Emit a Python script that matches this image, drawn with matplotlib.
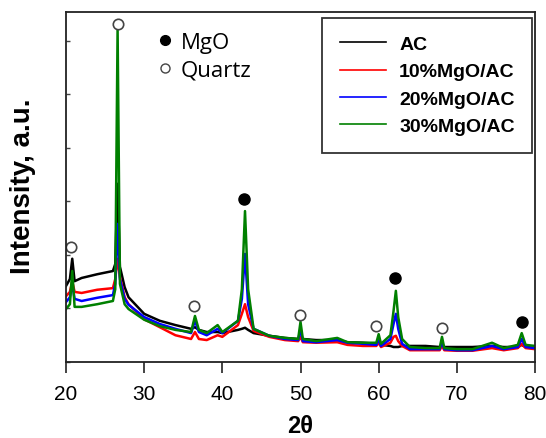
import matplotlib
matplotlib.use("Agg")
import matplotlib.pyplot as plt
from matplotlib.lines import Line2D

plt.rcParams["font.family"] = ["Liberation Sans", "DejaVu Sans"]

# 2-theta sample positions (deg)
two_theta = [20, 20.5, 20.8, 21.1, 22, 24, 26, 26.3, 26.6, 26.9, 27.5, 28, 30, 32,
             34, 36, 36.5, 37, 38, 39.4, 40, 42, 42.5, 42.9, 43.3, 44, 46, 48,
             49.7, 50, 50.3, 52, 54.7, 56, 58, 59.7, 60, 60.3, 61.5, 61.9, 62.2,
             62.5, 63, 64, 66, 67.8, 68.1, 68.4, 70, 72, 74.5, 76, 77.8, 78.3,
             78.8, 80]

# intensities (a.u.)
ac = [142, 155, 193, 151, 157, 164, 170, 183, 333, 178, 140, 121, 90, 77,
      69, 62, 65, 60, 56, 56, 54, 60, 62, 64, 60, 54, 49, 45,
      43, 45, 43, 41, 41, 37, 36, 34, 36, 32, 30, 28, 28,
      28, 30, 30, 30, 28, 32, 28, 28, 28, 30, 28, 28, 32,
      28, 26]
mgo10 = [123, 131, 151, 131, 129, 135, 138, 155, 193, 159, 121, 108, 80, 65,
         50, 43, 56, 43, 41, 50, 47, 69, 90, 108, 84, 58, 47, 41,
         39, 47, 37, 36, 37, 32, 30, 30, 36, 28, 36, 47, 49,
         39, 30, 22, 22, 22, 30, 22, 21, 21, 26, 22, 26, 34,
         26, 24]
mgo20 = [112, 121, 146, 118, 114, 120, 125, 146, 258, 155, 118, 107, 84, 71,
         62, 54, 77, 56, 50, 62, 54, 77, 118, 202, 108, 62, 49, 43,
         41, 62, 39, 37, 41, 36, 34, 32, 43, 30, 43, 71, 90,
         62, 34, 24, 24, 24, 37, 24, 22, 22, 30, 24, 28, 43,
         28, 26]
mgo30 = [99, 108, 170, 103, 103, 108, 114, 136, 622, 146, 108, 99, 79, 67,
         60, 56, 86, 60, 54, 69, 56, 77, 136, 282, 136, 62, 49, 45,
         43, 75, 43, 39, 45, 37, 36, 36, 52, 34, 50, 95, 133,
         84, 43, 28, 26, 26, 47, 26, 24, 24, 36, 26, 32, 54,
         32, 30]

series = ["AC", "10%MgO/AC", "20%MgO/AC", "30%MgO/AC"]
colors = ["#000000", "#ff0000", "#0000ff", "#008000"]

# phase markers above the peaks
mgo_pos = [42.8, 62.1, 78.3]
mgo_y = [305, 157, 75]
quartz_pos = [20.7, 26.6, 36.4, 49.9, 59.7, 68.1]
quartz_y = [215, 632, 105, 87, 67, 64]

fig = plt.figure(figsize=(5.46, 4.39), dpi=100)
ax = fig.add_axes([66 / 546, 76 / 439, 469 / 546, 350 / 439])

for name, vals, c in zip(series, [ac, mgo10, mgo20, mgo30], colors):
    ax.plot(two_theta, vals, color=c, lw=1.8, label=name)

ax.plot(mgo_pos, mgo_y, "o", color="black", ms=8, ls="none")
ax.plot(quartz_pos, quartz_y, "o", mfc="white", mec="#444444", mew=1.2,
        ms=7.5, ls="none")

ax.set_xlim(20, 80)
ax.set_ylim(0, 654)
ax.set_xticks(range(20, 81, 10))
ax.set_yticks(range(0, 601, 100))
ax.set_yticklabels([])
ax.tick_params(axis="x", direction="out", length=8, width=1.2,
               labelsize=15, pad=8, colors="#222222", labelcolor="black")
ax.tick_params(axis="y", direction="in", length=3, width=1.0, colors="#444444")
for sp in ax.spines.values():
    sp.set_linewidth(1.3)
    sp.set_color("#222222")

leg = ax.legend(loc="upper right", bbox_to_anchor=(0.994, 0.983),
                prop={"weight": "bold", "size": 14}, frameon=True,
                fancybox=False, edgecolor="black", handlelength=2.4,
                handletextpad=0.65, labelspacing=0.5, borderpad=0.9,
                borderaxespad=0)
leg.get_frame().set_linewidth(1.3)
for ln in leg.get_lines():
    ln.set_linewidth(1.2)
ax.add_artist(leg)

key = [Line2D([], [], ls="none", marker="o", color="black", ms=7),
       Line2D([], [], ls="none", marker="o", mfc="white", mec="#444444",
              mew=1.0, ms=6.5)]
ax.legend(key, ["MgO", "Quartz"], loc="upper left",
          bbox_to_anchor=(0.15, 1.0), frameon=False,
          prop={"family": "Open Sans", "size": 16}, handlelength=0.8,
          handletextpad=0.3, labelspacing=0.3)

fig.text(23 / 546, 1 - 186 / 439, "Intensity, a.u.", rotation=90,
         ha="center", va="center", fontsize=20, fontweight="bold")
fig.text(300 / 546, 1 - 427 / 439, "2θ", ha="center", va="center",
         fontsize=17, fontweight="bold")

fig.savefig("out.png", dpi=100)
